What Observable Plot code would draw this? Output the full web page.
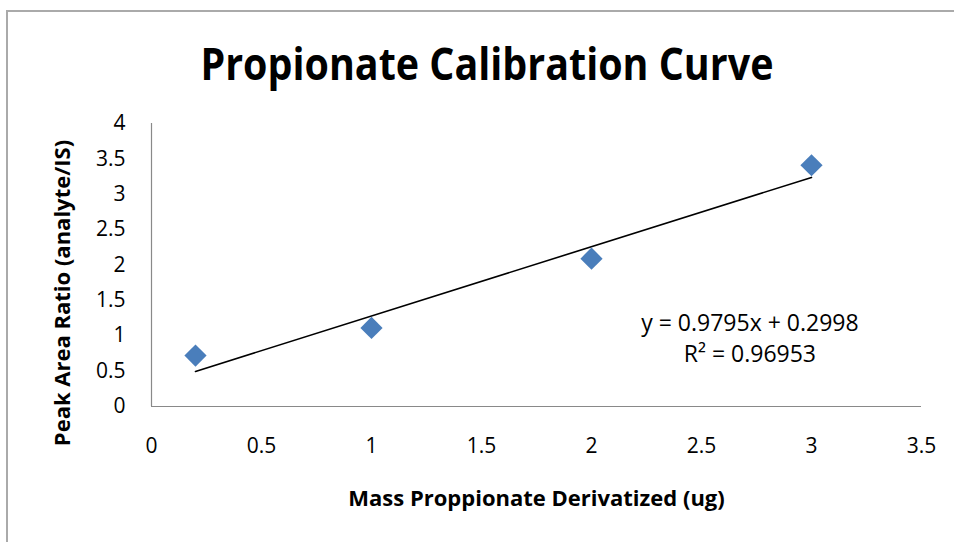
<!DOCTYPE html>
<html>
<head>
<meta charset="utf-8">
<script src="https://cdn.jsdelivr.net/npm/d3@7"></script>
<script src="https://cdn.jsdelivr.net/npm/@observablehq/plot@0.6"></script>
<style>
  html, body { margin: 0; padding: 0; background: #fff; }
  body { position: relative; width: 954px; height: 542px; overflow: hidden; font-family: "Open Sans", sans-serif; }
  #frame { position: absolute; left: 6px; top: 10px; width: 1000px; height: 600px; border-left: 2px solid #aaa; border-top: 2px solid #aaa; box-sizing: border-box; }
  #title { position: absolute; left: 0; top: 40px; width: 974px; text-align: center; font-weight: 700; font-size: 45px; line-height: 1; color: #000; white-space: nowrap; }
  #title span { display: inline-block; transform-origin: center; }
  #chart { position: absolute; left: 0; top: 100px; }
</style>
</head>
<body>
<div id="frame"></div>
<div id="title"><span>Propionate Calibration Curve</span></div>
<div id="chart"></div>
<script>
// Data
const massUg = [0.2, 1, 2, 3];
const peakAreaRatio = [0.72, 1.11, 2.09, 3.41];
const trendSlope = 0.9795;
const trendIntercept = 0.2998;
const rSquared = "0.96953";
const xTicks = [0, 0.5, 1, 1.5, 2, 2.5, 3, 3.5];
const yTicks = [0, 0.5, 1, 1.5, 2, 2.5, 3, 3.5, 4];
const titleText = "Propionate Calibration Curve";
const xLabel = "Mass Proppionate Derivatized (ug)";
const yLabel = "Peak Area Ratio (analyte/IS)";

const points = massUg.map((x, i) => ({x, y: peakAreaRatio[i]}));
const trendXs = [d3.min(massUg), d3.max(massUg)];
const trend = trendXs.map(x => ({x, y: trendSlope * x + trendIntercept}));
const eqText = `y = ${trendSlope}x + ${trendIntercept}\nR² = ${rSquared}`;

const fmt = d => String(d);

const chart = Plot.plot({
  width: 954,
  height: 430,
  marginTop: 23,
  marginBottom: 124,
  marginLeft: 151,
  marginRight: 33,
  style: {fontFamily: "'Open Sans', sans-serif", fontSize: "21px", color: "#000", background: "transparent"},
  x: {domain: [0, 3.5], ticks: xTicks, tickFormat: fmt, tickSize: 0, tickPadding: 32, label: null},
  y: {domain: [0, 4], ticks: yTicks, tickFormat: fmt, tickSize: 0, tickPadding: 26, label: null},
  marks: [
    Plot.ruleY([0], {stroke: "#898989", strokeWidth: 1.2}),
    Plot.ruleX([0], {stroke: "#898989", strokeWidth: 1.2}),
    Plot.line(trend, {x: "x", y: "y", stroke: "#000", strokeWidth: 1.6}),
    Plot.dot(points, {x: "x", y: "y", symbol: "diamond2", r: 10, fill: "#4a7ebb", stroke: null}),
    Plot.text([eqText], {x: 2.72, y: 0.99, text: d => d, textAnchor: "middle", lineHeight: 1.33, fontSize: 23, fill: "#000"}),
    Plot.text([xLabel], {frameAnchor: "bottom", dy: 99, text: d => d, textAnchor: "middle", fontWeight: "bold", fontSize: 22, fill: "#000"}),
    Plot.text([yLabel], {frameAnchor: "left", dx: -89, dy: 28, rotate: -90, text: d => d, textAnchor: "middle", fontWeight: "bold", fontSize: 22, fill: "#000"})
  ]
});
document.getElementById("chart").appendChild(chart);

// Fit the title to the reference width
const span = document.querySelector("#title span");
span.textContent = titleText;
const w = span.getBoundingClientRect().width;
span.style.transform = `scaleX(${573 / w})`;
</script>
</body>
</html>
